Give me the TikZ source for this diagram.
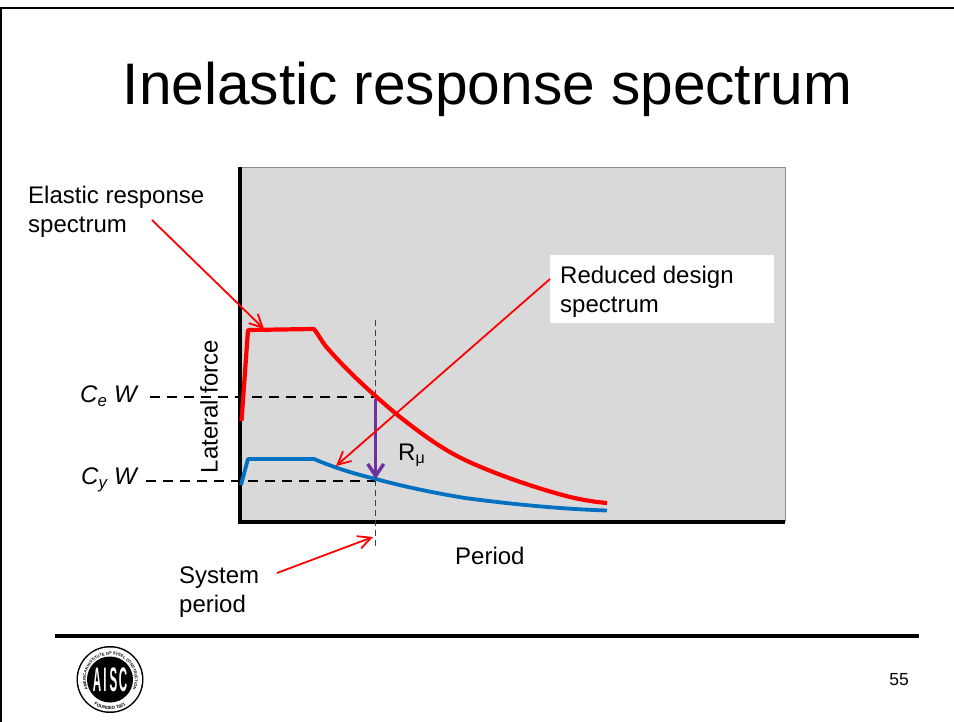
\documentclass[tikz,border=0pt]{standalone}
\usepackage{fontspec}
\setmainfont{Liberation Sans}
\usetikzlibrary{arrows.meta,decorations.text}
\tikzset{
 lbl/.style={inner sep=0pt,font=\fontsize{24}{29}\selectfont,align=left},
 ax/.style={black,line width=3.4pt},
 guide/.style={black,line width=1.6pt,dash pattern=on 10pt off 7pt},
 sysguide/.style={black!75,line width=1.3pt,dash pattern=on 6pt off 4pt},
 callout/.style={red,line width=1.8pt,-{Straight Barb[length=13pt,width=13pt,line width=1.8pt]}},
 elastic/.style={red,line width=4.2pt,line join=round},
 reduced/.style={color={rgb,255:red,0;green,112;blue,192},line width=3.8pt,line join=round},
 rarrow/.style={color={rgb,255:red,112;green,48;blue,160},line width=3.4pt,-{Straight Barb[length=12pt,width=16pt,line width=3.4pt]}},
 logoletter/.style={white,inner sep=0pt,font=\bfseries\fontsize{34}{34}\selectfont,xscale=.34},
}
\begin{document}
\begin{tikzpicture}[x=1pt,y=-1pt]
\useasboundingbox (0,0) rectangle (954,722);
\fill[white] (0,0) rectangle (954,722);
\draw[black,line width=2.4pt] (1,722) -- (1,8) -- (954,8);
\node[inner sep=0pt,font=\fontsize{58.6}{70}\selectfont] (title) at (487.5,89) {Inelastic response spectrum};
% plot
\fill[black!15] (240,167) rectangle (785,522);
\draw[black!45,line width=.6pt] (240,167) -- (785,167) -- (785,522);
\node[lbl,rotate=90] (lat) at (209,406.5) {Lateral force};
\coordinate (o) at (240,522);
\coordinate (yt) at (240,167);
\coordinate (xe) at (785,522);
\draw[ax] (yt) -- (o) -- (xe);
% guides
\coordinate (ceL) at (150,397);\coordinate (ceR) at (375,397);
\coordinate (cyL) at (146,481);\coordinate (cyR) at (375,481);
\coordinate (sysT) at (375.7,320);\coordinate (sysB) at (375.7,550);
\draw[guide] (ceL) -- (ceR);
\draw[guide] (cyL) -- (cyR);
\draw[sysguide] (sysT) -- (sysB);
% curves
\draw[elastic] (241.5,421) -- (248,330) -- (314,329) .. controls (320,337) and (323,344) .. (330,351)
  .. controls (348,372) and (378,399) .. (400,417) .. controls (423,435) and (442,449) .. (465,460)
  .. controls (495,474) and (535,488) .. (570,497) .. controls (583,500) and (595,502) .. (607,503);
\draw[reduced] (241,485) -- (248,459) -- (314,459) .. controls (335,468) and (355,474) .. (376,479)
  .. controls (405,487) and (435,493) .. (465,498) .. controls (510,504) and (560,509) .. (607,510.5);
\coordinate (rTop) at (375.7,399);\coordinate (rBot) at (375.7,479);
\draw[rarrow] (rTop) -- (rBot);
\node[lbl,anchor=west] (rmu) at (398,455) {R\raisebox{-3pt}{\fontsize{16}{16}\selectfont μ}};
% labels
\node[lbl,anchor=north west] (ers) at (28,185.5) {Elastic response\\spectrum};
\node[fill=white,minimum width=224pt,minimum height=68pt,anchor=north west,inner sep=0pt] (rdbox) at (550,255) {};
\node[lbl,anchor=north west] (rds) at (560,265.5) {Reduced design\\spectrum};
\node[lbl,anchor=west] (per) at (455,556) {Period};
\node[lbl,anchor=north west] (sys) at (179,566.5) {System\\period};
\node[lbl,anchor=west,font=\fontsize{24}{29}\selectfont\itshape] (ce) at (80,396) {C\textsubscript{e} W};
\node[lbl,anchor=west,font=\fontsize{24}{29}\selectfont\itshape] (cy) at (81,480) {C\textsubscript{y} W};
% callouts
\coordinate (a1s) at (152,220);\coordinate (a1e) at (264,329);
\coordinate (a2s) at (550,279);\coordinate (a2e) at (336,466);
\coordinate (a3s) at (277,573);\coordinate (a3e) at (373,537);
\draw[callout] (a1s) -- (a1e);
\draw[callout] (a2s) -- (a2e);
\draw[callout] (a3s) -- (a3e);
% rule and footer
\coordinate (ruleL) at (55,636);\coordinate (ruleR) at (919,636);
\draw[black,line width=4pt] (ruleL) -- (ruleR);
\node[inner sep=0pt,font=\fontsize{17.5}{20}\selectfont] (pg) at (899,680) {55};
% logo
\coordinate (logo) at (110,679.5);
\fill[black] (logo) circle (33.5pt);
\fill[white] (logo) circle (32pt);
\fill[black] (logo) circle (23pt);
\node[logoletter] (la) at (97,679.5) {A};
\node[logoletter] (li) at (105,679.5) {I};
\node[logoletter] (ls) at (113.5,679.5) {S};
\node[logoletter] (lc) at (123,679.5) {C};
\path[postaction={decorate},decoration={text along path,text align=center,
  text={|\fontsize{4}{4}\bfseries\selectfont|AMERICAN INSTITUTE OF STEEL CONSTRUCTION}}]
  (90.3,693.3) arc[start angle=215,end angle=-35,radius=24.5pt];
\path[postaction={decorate},decoration={text along path,text align=center,
  text={|\fontsize{4.5}{4.5}\bfseries\selectfont|FOUNDED 1921}}]
  (92.8,704.1) arc[start angle=235,end angle=305,radius=30pt];
\end{tikzpicture}
\end{document}
